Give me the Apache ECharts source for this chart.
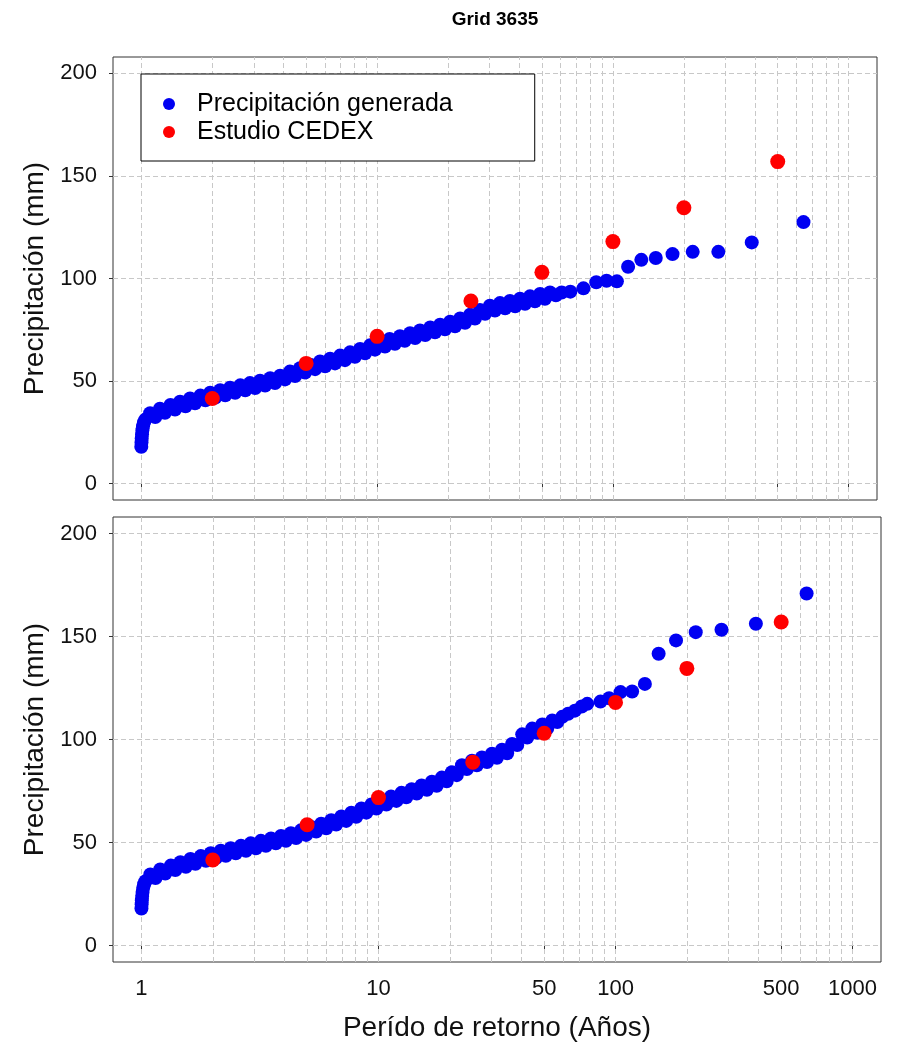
<!DOCTYPE html>
<html>
<head>
<meta charset="utf-8">
<script src="https://cdn.jsdelivr.net/npm/echarts@6/dist/echarts.min.js"></script>
<style>
  html, body { margin: 0; padding: 0; background: #fff; }
  #main { width: 900px; height: 1044px; }
</style>
</head>
<body>
<div id="main"></div>
<script>
// periodo de retorno (años) y precipitación (mm), panel superior
// la nube de puntos densa se lee con su dispersión vertical (borde alto / borde bajo)
var periodosSup = [1.000, 1.002, 1.004, 1.007, 1.011, 1.017, 1.026, 1.04, 1.09, 1.146, 1.20, 1.26, 1.33, 1.39, 1.46, 1.54, 1.61, 1.69, 1.78, 1.87, 1.96, 2.06, 2.16, 2.27, 2.38, 2.50, 2.63, 2.76, 2.89, 3.04, 3.19, 3.35, 3.52, 3.69, 3.88, 4.07, 4.27, 4.49, 4.71, 4.95, 5.20, 5.46, 5.73, 6.02, 6.32, 6.63, 6.97, 7.31, 7.68, 8.06, 8.47, 8.89, 9.34, 9.8, 10.3, 10.8, 11.3, 11.9, 12.5, 13.1, 13.8, 14.5, 15.2, 16.0, 16.8, 17.6, 18.5, 19.4, 20.4, 21.4, 22.5, 23.6, 24.8, 26.0, 27.3, 28.7, 30.1, 31.6, 33.2, 34.9, 36.6, 38.5, 40.4, 42.4, 44.5, 46.7, 49.1, 51.5, 54.1, 57.3, 60.6, 66, 75, 85, 94, 104, 116, 132, 152, 179, 218, 280, 388, 643];
var precipSup = [18, 20, 22, 24, 26, 28, 29.8, 31.2, 34.3, 32.5, 36.5, 34.5, 38.3, 36.1, 39.9, 37.7, 41.5, 39.2, 42.9, 40.6, 44.3, 41.9, 45.5, 43.1, 46.7, 44.3, 47.9, 45.5, 49, 46.6, 50.2, 47.8, 51.4, 49, 52.6, 50.8, 54.6, 52.4, 56.3, 54.2, 58, 55.8, 59.5, 57.2, 60.9, 58.6, 62.4, 60.2, 64, 61.8, 65.6, 63.5, 67.4, 65.3, 69, 66.8, 70.5, 68.2, 71.9, 69.6, 73.3, 71, 74.7, 72.4, 76.1, 73.8, 77.5, 75.2, 78.9, 76.7, 80.5, 78.4, 82.3, 80.5, 84.7, 82.8, 86.7, 84.4, 88, 85.5, 89, 86.5, 90.1, 87.7, 91.3, 88.9, 92.5, 90.1, 93.2, 91.8, 93.2, 93.6, 95.2, 98.2, 98.9, 98.6, 105.7, 109.1, 110, 111.9, 113, 113, 117.6, 127.5];

// panel inferior
var periodosInf = [1.000, 1.002, 1.004, 1.007, 1.011, 1.017, 1.026, 1.04, 1.09, 1.146, 1.20, 1.26, 1.33, 1.39, 1.46, 1.54, 1.61, 1.69, 1.78, 1.87, 1.96, 2.06, 2.16, 2.27, 2.38, 2.50, 2.63, 2.76, 2.89, 3.04, 3.19, 3.35, 3.52, 3.69, 3.88, 4.07, 4.27, 4.49, 4.71, 4.95, 5.20, 5.46, 5.73, 6.02, 6.32, 6.63, 6.97, 7.31, 7.68, 8.06, 8.47, 8.89, 9.34, 9.8, 10.3, 10.8, 11.3, 11.9, 12.5, 13.1, 13.8, 14.5, 15.2, 16.0, 16.8, 17.6, 18.5, 19.4, 20.4, 21.4, 22.5, 23.6, 24.8, 26.0, 27.3, 28.7, 30.1, 31.6, 33.2, 34.9, 36.6, 38.5, 40.4, 42.4, 44.5, 46.7, 49.1, 51.5, 54.1, 56.8, 59.6, 63.1, 67.4, 72, 76, 86.4, 94, 105, 117.5, 133, 152, 180, 218, 280, 391, 640];
var precipInf = [18, 20, 22, 24, 26, 28, 29.8, 31.2, 34.5, 32.8, 36.9, 34.9, 38.8, 36.6, 40.4, 38.2, 42, 39.7, 43.4, 41.1, 44.8, 42.4, 46, 43.6, 47.2, 44.8, 48.4, 46, 49.6, 47.2, 50.8, 48.4, 52, 49.6, 53.2, 50.8, 54.5, 52.2, 55.9, 53.7, 57.5, 55.3, 59.1, 56.9, 60.8, 58.7, 62.6, 60.5, 64.5, 62.5, 66.5, 64.5, 68.5, 66.5, 70.5, 68.4, 72.3, 70.2, 74.1, 72, 75.9, 73.8, 77.7, 75.6, 79.5, 77.5, 81.5, 79.7, 84.1, 82.7, 87.5, 85.7, 89.7, 87.5, 91.3, 89.1, 93.1, 91.1, 95, 93.3, 97.8, 97.3, 102.5, 101, 105.3, 103.3, 107.3, 105.3, 109.2, 108.5, 111, 112.5, 114, 116, 117.3, 118.4, 120, 123, 123.3, 127, 141.6, 148.1, 152.1, 153.3, 156.2, 170.9];

// estudio CEDEX (igual en ambos paneles)
var periodosCedex = [2, 5, 10, 25, 50, 100, 200, 500];
var precipCedex = [41.5, 58.6, 71.8, 89, 103, 118, 134.5, 157];

// ejes
var etiquetasX = [1, 10, 50, 100, 500, 1000];
var etiquetasY = [0, 50, 100, 150, 200];
var rejillaX = [1, 2, 3, 4, 5, 6, 7, 8, 9, 10, 20, 30, 40, 50, 60, 70, 80, 90, 100, 200, 300, 400, 500, 600, 700, 800, 900, 1000];

var fuente = 'Liberation Sans, Arial, sans-serif';

function pares(xs, ys) {
    return xs.map(function (x, i) { return [x, ys[i]]; });
}

var lineasRejilla = rejillaX.map(function (v) { return { xAxis: v }; })
    .concat(etiquetasY.map(function (v) { return { yAxis: v }; }));

function ejeX(idx, conEtiquetas) {
    return {
        type: 'log',
        logBase: 10,
        gridIndex: idx,
        min: Math.pow(10, -0.12),
        max: Math.pow(10, 3.12),
        axisLine: { show: false },
        axisTick: { show: true, customValues: etiquetasX, length: 4, lineStyle: { color: '#333' } },
        axisLabel: {
            show: conEtiquetas,
            customValues: etiquetasX,
            formatter: function (v) { return String(Math.round(v)); },
            margin: 16,
            fontSize: 22,
            fontFamily: fuente,
            color: '#111'
        },
        splitLine: { show: false },
        minorTick: { show: false },
        name: conEtiquetas ? 'Perído de retorno (Años)' : '',
        nameLocation: 'middle',
        nameGap: 52,
        nameTextStyle: { fontSize: 28, fontFamily: fuente, color: '#111' }
    };
}

function ejeY(idx) {
    return {
        type: 'value',
        gridIndex: idx,
        min: -8,
        max: 208,
        axisLine: { show: false },
        axisTick: { show: true, customValues: etiquetasY, length: 4, lineStyle: { color: '#333' } },
        axisLabel: {
            customValues: etiquetasY,
            margin: 16,
            fontSize: 22,
            fontFamily: fuente,
            color: '#111'
        },
        splitLine: { show: false },
        name: 'Precipitación (mm)',
        nameLocation: 'middle',
        nameGap: 58,
        nameTextStyle: { fontSize: 28, fontFamily: fuente, color: '#111' }
    };
}

function serieGenerada(idx, xs, ys) {
    return {
        name: 'Precipitación generada',
        type: 'scatter',
        xAxisIndex: idx,
        yAxisIndex: idx,
        symbol: 'circle',
        symbolSize: 14,
        z: 3,
        itemStyle: { color: '#0000f2', opacity: 1 },
        data: pares(xs, ys),
        markLine: {
            silent: true,
            z: 1,
            animation: false,
            symbol: ['none', 'none'],
            label: { show: false },
            lineStyle: { color: '#c8c8c8', type: [5, 3], width: 1 },
            emphasis: { disabled: true },
            data: lineasRejilla
        }
    };
}

function serieCedex(idx) {
    return {
        name: 'Estudio CEDEX',
        type: 'scatter',
        xAxisIndex: idx,
        yAxisIndex: idx,
        symbol: 'circle',
        symbolSize: 15,
        z: 4,
        itemStyle: { color: '#ff0000', opacity: 1 },
        data: pares(periodosCedex, precipCedex)
    };
}

var chart = echarts.init(document.getElementById('main'), null, { renderer: 'canvas' });

chart.setOption({
    animation: false,
    backgroundColor: '#fff',
    title: {
        text: 'Grid 3635',
        left: 495,
        textAlign: 'center',
        top: 10,
        padding: 0,
        textStyle: { fontSize: 19, fontWeight: 'bold', fontFamily: fuente, color: '#000' }
    },
    legend: {
        orient: 'vertical',
        left: 141,
        top: 74,
        padding: [16, 82, 15, 22],
        itemGap: 0,
        itemWidth: 12,
        itemHeight: 12,
        icon: 'circle',
        backgroundColor: '#fff',
        borderColor: '#000',
        borderWidth: 1,
        borderRadius: 0,
        selectedMode: false,
        textStyle: { fontSize: 25, lineHeight: 28, padding: [0, 0, 0, 17], fontFamily: fuente, color: '#000' },
        data: ['Precipitación generada', 'Estudio CEDEX']
    },
    grid: [
        { left: 113, top: 57, width: 764, height: 443, show: true, borderColor: '#333', borderWidth: 1, backgroundColor: 'transparent', containLabel: false, outerBoundsMode: 'none' },
        { left: 113, top: 517, width: 768, height: 445, show: true, borderColor: '#333', borderWidth: 1, backgroundColor: 'transparent', containLabel: false, outerBoundsMode: 'none' }
    ],
    xAxis: [ejeX(0, false), ejeX(1, true)],
    yAxis: [ejeY(0), ejeY(1)],
    series: [
        serieGenerada(0, periodosSup, precipSup),
        serieCedex(0),
        serieGenerada(1, periodosInf, precipInf),
        serieCedex(1)
    ]
});
</script>
</body>
</html>
